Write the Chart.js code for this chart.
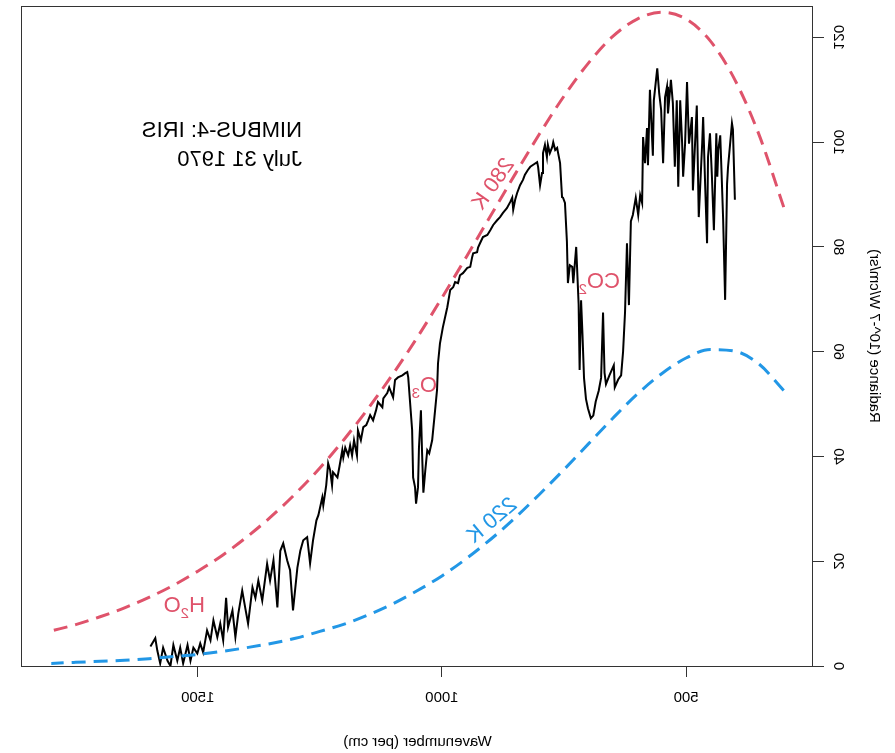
<!DOCTYPE html>
<html lang="en">
<head>
<meta charset="utf-8">
<title>NIMBUS-4: IRIS, July 31 1970</title>
<script src="https://cdn.jsdelivr.net/npm/chart.js@4.4.1/dist/chart.umd.min.js"></script>
<style>
  html, body { margin: 0; padding: 0; background: #fff; }
  #wrap { width: 895px; height: 753px; }
  /* the reference picture is a mirror image, so the whole canvas is flipped */
  #irisChart { display: block; transform: scaleX(-1); }
</style>
</head>
<body>
<div id="wrap"><canvas id="irisChart" width="895" height="753"></canvas></div>
<script>
// --- data: measured spectrum (wavenumber per cm, radiance) ---
const spectrumWn = [
  1597, 1587, 1583, 1577, 1571, 1562, 1556, 1550, 1542, 1536, 1530, 1521, 1515, 1509, 1501, 1495,
  1489, 1481, 1474, 1468, 1460, 1454, 1448, 1442, 1438, 1429, 1423, 1417, 1409, 1403, 1397, 1388,
  1382, 1376, 1368, 1358, 1352, 1345, 1337, 1331, 1325, 1317, 1311, 1305, 1296, 1290, 1284, 1276,
  1270, 1264, 1257, 1253, 1245, 1243, 1237, 1233, 1229, 1225, 1223, 1214, 1210, 1204, 1202, 1198,
  1192, 1188, 1184, 1180, 1174, 1172, 1166, 1161, 1155, 1151, 1147, 1141, 1135, 1131, 1122, 1120,
  1112, 1108, 1100, 1096, 1090, 1081, 1075, 1071, 1069, 1066, 1061, 1059, 1055, 1053, 1049, 1047,
  1043, 1041, 1038, 1034, 1030, 1026, 1020, 1016, 1010, 1008, 1004, 998, 989, 983, 977, 973,
  967, 963, 957, 948, 942, 938, 936, 928, 926, 922, 916, 907, 901, 895, 887, 881,
  875, 867, 860, 856, 854, 850, 846, 840, 834, 830, 824, 819, 813, 805, 803, 799,
  795, 793, 789, 785, 783, 779, 774, 772, 768, 764, 762, 758, 754, 752, 748, 744,
  742, 738, 733, 731, 725, 723, 720, 718, 715, 712, 709, 705, 701, 695, 690, 685,
  679, 674, 670, 667, 664, 657, 648, 646, 639, 633, 629, 625, 621, 617, 613, 609,
  603, 598, 594, 590, 588, 584, 580, 578, 574, 568, 566, 559, 555, 551, 547, 543,
  539, 537, 531, 527, 523, 519, 516, 512, 508, 506, 502, 498, 494, 488, 486, 478,
  474, 467, 465, 461, 457, 455, 451, 447, 443, 438, 436, 434, 430, 427, 424, 420,
  416, 414, 406, 404, 400
];
const spectrumRad = [
  3.7, 5.3, 3.0, 0.5, 3.5, 1.0, 0.0, 4.0, 1.0, 3.5, 0.5, 4.0, 1.0, 3.5, 2.4, 4.3,
  2.6, 6.8, 4.9, 8.7, 5.5, 8.1, 4.9, 13.0, 7.4, 10.6, 5.5, 10.0, 14.4, 11.2, 8.1, 15.0,
  13.0, 16.3, 12.5, 19.5, 16.3, 20.2, 11.2, 22.0, 23.4, 20.2, 18.3, 10.6, 18.8, 22.0, 24.0, 24.6,
  19.6, 24.0, 27.8, 28.8, 32.2, 30.7, 34.5, 38.7, 37.4, 34.5, 37.0, 36.0, 38.0, 41.2, 39.8, 41.7,
  40.2, 42.1, 40.2, 43.1, 40.2, 45.0, 43.1, 45.6, 46.0, 46.9, 47.9, 46.9, 48.8, 50.4, 49.4, 51.1,
  52.1, 53.2, 51.3, 54.6, 55.1, 55.5, 55.9, 56.1, 55.1, 51.3, 45.0, 36.0, 34.1, 31.0, 34.1, 41.7,
  48.8, 41.7, 33.1, 37.4, 41.2, 40.6, 43.1, 46.9, 52.7, 57.8, 61.6, 64.7, 68.5, 71.8, 72.3, 73.3,
  73.1, 74.6, 75.0, 76.0, 76.2, 78.1, 78.8, 79.0, 79.9, 80.7, 81.9, 82.3, 83.2, 84.2, 85.1, 85.7,
  86.5, 87.4, 88.6, 89.4, 87.1, 89.0, 90.3, 91.8, 92.8, 93.8, 94.7, 95.3, 95.7, 96.2, 95.3, 91.8,
  94.1, 97.9, 99.5, 97.2, 99.5, 97.9, 99.1, 100.0, 98.5, 98.9, 97.9, 96.0, 89.5, 89.4, 88.4, 81.0,
  73.1, 76.5, 76.2, 73.1, 80.0, 75.6, 69.0, 56.5, 69.8, 63.0, 55.0, 51.0, 49.2, 47.3, 47.8, 50.5,
  52.5, 55.0, 67.5, 56.0, 53.8, 55.5, 57.4, 53.2, 54.7, 55.5, 60.0, 67.5, 80.7, 68.9, 84.9, 86.1,
  89.4, 86.1, 89.9, 88.4, 101.0, 96.0, 102.7, 95.6, 110.0, 97.4, 108.0, 114.1, 109.3, 106.1, 96.0, 108.6,
  110.6, 105.5, 111.9, 107.4, 95.3, 108.0, 91.5, 108.0, 99.7, 93.4, 99.7, 111.5, 99.7, 104.8, 90.8, 107.0,
  85.7, 99.7, 104.8, 92.1, 80.7, 97.2, 101.7, 93.4, 83.2, 101.7, 93.4, 98.5, 101.3, 93.4, 85.1, 69.9,
  92.1, 95.3, 103.6, 102.4, 89.0
];

// --- data: blackbody reference curves (280 K and 220 K) ---
const planckWn = [
  300, 350, 400, 450, 500, 550, 600, 650, 700, 750, 800, 850, 900, 950, 1000, 1050,
  1100, 1150, 1200, 1250, 1300, 1350, 1400, 1450, 1500, 1550, 1600, 1650, 1700, 1750, 1800
];
const planck280 = [
  87.6, 101.3, 111.9, 119.3, 123.5, 124.8, 123.5, 120.2, 115.1, 108.8, 101.6, 93.9, 86.0, 78.1, 70.3, 62.8,
  55.8, 49.3, 43.3, 37.8, 32.9, 28.5, 24.6, 21.1, 18.1, 15.4, 13.1, 11.1, 9.4, 7.9, 6.7
];
const planck220 = [
  52.6, 57.6, 60.1, 60.4, 58.8, 55.8, 51.9, 47.3, 42.4, 37.5, 32.8, 28.3, 24.2, 20.5, 17.2, 14.4,
  11.9, 9.8, 8.0, 6.6, 5.3, 4.3, 3.5, 2.8, 2.2, 1.8, 1.4, 1.1, 0.9, 0.7, 0.5
];

// --- axes ---
const xTicks = [500, 1000, 1500];
const yTicks = [0, 20, 40, 60, 80, 100, 120];
const xTitle = 'Wavenumber (per cm)';
const yTitle = 'Radiance (10^-7 W/cm/sr)';

const RED = '#DF536B';
const BLUE = '#2297E6';
const FONT = '"Liberation Sans", Arial, Helvetica, sans-serif';

function toPoints(xs, ys) {
    return xs.map((x, i) => ({ x: x, y: ys[i] }));
}

// text with a subscript, e.g. H2O -> parts [['H',0],['2',1],['O',0]]
function drawSubText(ctx, parts, x, y, size) {
    let cx = x;
    parts.forEach(([txt, sub]) => {
        ctx.font = `${sub ? Math.round(size * 0.7) : size}px ${FONT}`;
        ctx.fillText(txt, cx, sub ? y + size * 0.28 : y);
        cx += ctx.measureText(txt).width;
    });
}

// --- plugin: box, tick labels, titles and notes ---
const decorPlugin = {
    id: 'decor',
    afterDraw(chart) {
        const { ctx, chartArea: a, scales } = chart;
        const xs = scales.x, ys = scales.y;
        ctx.save();

        // plot box
        ctx.strokeStyle = '#333';
        ctx.lineWidth = 1;
        ctx.strokeRect(Math.round(a.left) + 0.5, Math.round(a.top) + 0.5,
            Math.round(a.right - a.left), Math.round(a.bottom - a.top));

        ctx.fillStyle = '#000';
        ctx.textAlign = 'center';
        ctx.textBaseline = 'middle';

        // x tick labels + title
        ctx.font = `15px ${FONT}`;
        xTicks.forEach(v => ctx.fillText(String(v), xs.getPixelForValue(v), 698));
        ctx.fillText(xTitle, (a.left + a.right) / 2, 742);

        // y tick labels (rotated, R style)
        yTicks.forEach(v => {
            ctx.save();
            ctx.translate(57, ys.getPixelForValue(v));
            ctx.rotate(-Math.PI / 2);
            ctx.fillText(String(v), 0, 0);
            ctx.restore();
        });
        ctx.save();
        ctx.translate(21, (a.top + a.bottom) / 2);
        ctx.rotate(-Math.PI / 2);
        ctx.fillText(yTitle, 0, 0);
        ctx.restore();

        // header
        ctx.textAlign = 'left';
        ctx.textBaseline = 'alphabetic';
        ctx.font = `22px ${FONT}`;
        ctx.fillText('NIMBUS-4: IRIS', 593, 137);
        ctx.fillText('July 31 1970', 593, 166);

        // curve labels
        ctx.textAlign = 'center';
        ctx.fillStyle = RED;
        ctx.save();
        ctx.translate(403, 183);
        ctx.rotate(55 * Math.PI / 180);
        ctx.fillText('280 K', 0, 8);
        ctx.restore();

        ctx.fillStyle = BLUE;
        ctx.save();
        ctx.translate(404, 519);
        ctx.rotate(40 * Math.PI / 180);
        ctx.fillText('220 K', 0, 8);
        ctx.restore();

        // absorption bands
        ctx.textAlign = 'left';
        ctx.fillStyle = RED;
        drawSubText(ctx, [['H', 0], ['2', 1], ['O', 0]], 690, 612, 22);
        drawSubText(ctx, [['O', 0], ['3', 1]], 458, 392, 22);
        drawSubText(ctx, [['C', 0], ['O', 0], ['2', 1]], 275, 288, 22);

        ctx.restore();
    }
};

// --- chart ---
function initIrisChart() {
    const ctx = document.getElementById('irisChart');
    if (!ctx) return;

    const tickGrid = { display: true, drawOnChartArea: false, drawTicks: true, tickLength: 11, color: '#333', lineWidth: 1 };

    new Chart(ctx, {
        type: 'line',
        data: {
            datasets: [
                { label: '280 K', data: toPoints(planckWn, planck280), borderColor: RED, borderWidth: 3,
                  borderDash: [14, 8], cubicInterpolationMode: 'monotone', pointRadius: 0, order: 0 },
                { label: '220 K', data: toPoints(planckWn, planck220), borderColor: BLUE, borderWidth: 3,
                  borderDash: [14, 8], cubicInterpolationMode: 'monotone', pointRadius: 0, order: 0 },
                { label: 'IRIS', data: toPoints(spectrumWn, spectrumRad), borderColor: '#000', borderWidth: 2,
                  tension: 0, pointRadius: 0, order: 1 }
            ]
        },
        options: {
            responsive: false,
            animation: false,
            events: [],
            devicePixelRatio: 1,
            layout: { padding: { top: 6, right: 22, left: 0, bottom: 0 } },
            plugins: { legend: { display: false }, tooltip: { enabled: false } },
            scales: {
                x: {
                    type: 'linear', min: 240, max: 1860,
                    grid: tickGrid, border: { display: false },
                    ticks: { display: false },
                    afterBuildTicks: s => { s.ticks = xTicks.map(v => ({ value: v })); },
                    afterFit: s => { s.height = 87; }
                },
                y: {
                    type: 'linear', min: 0, max: 126,
                    grid: tickGrid, border: { display: false },
                    ticks: { display: false },
                    afterBuildTicks: s => { s.ticks = yTicks.map(v => ({ value: v })); },
                    afterFit: s => { s.width = 82; }
                }
            }
        },
        plugins: [decorPlugin]
    });
}

document.addEventListener('DOMContentLoaded', initIrisChart);
</script>
</body>
</html>
